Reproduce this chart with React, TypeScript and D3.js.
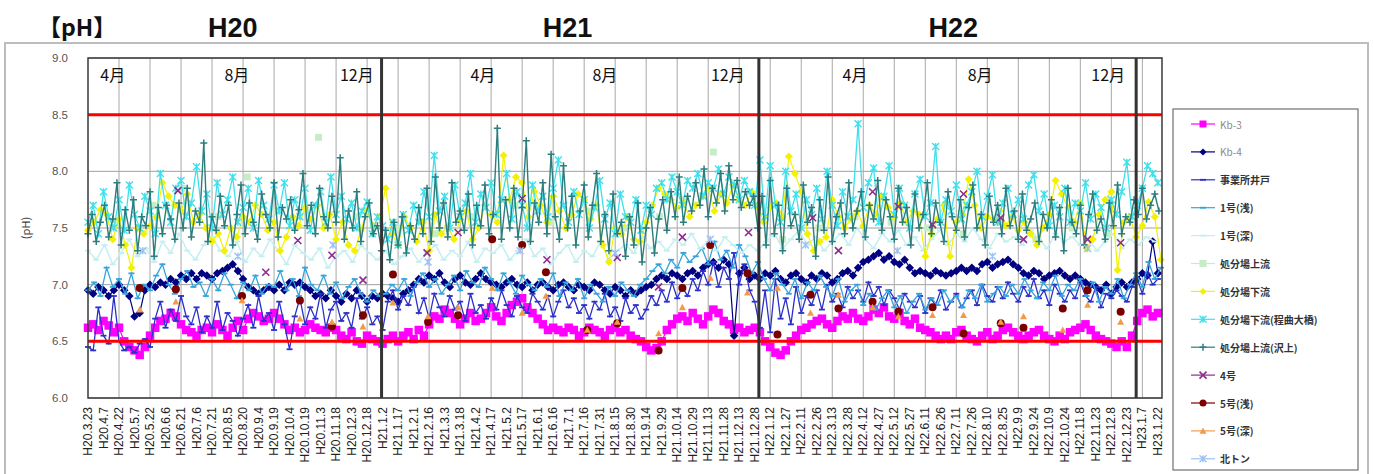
import React from "react";
import * as d3 from "d3";

// ---- data ----
const seriesStart = "2008-03-23";
const axisEnd = "2011-01-26";

const tickLabels = [
  "H20.3.23", "H20.4.7", "H20.4.22", "H20.5.7", "H20.5.22", "H20.6.6", "H20.6.21", "H20.7.6", "H20.7.21", "H20.8.5",
  "H20.8.20", "H20.9.4", "H20.9.19", "H20.10.4", "H20.10.19", "H20.11.3", "H20.11.18", "H20.12.3", "H20.12.18",
  "H21.1.2", "H21.1.17", "H21.2.1", "H21.2.16", "H21.3.3", "H21.3.18", "H21.4.2", "H21.4.17", "H21.5.2", "H21.5.17",
  "H21.6.1", "H21.6.16", "H21.7.1", "H21.7.16", "H21.7.31", "H21.8.15", "H21.8.30", "H21.9.14", "H21.9.29",
  "H21.10.14", "H21.10.29", "H21.11.13", "H21.11.28", "H21.12.13", "H21.12.28",
  "H22.1.12", "H22.1.27", "H22.2.11", "H22.2.26", "H22.3.13", "H22.3.28", "H22.4.12", "H22.4.27", "H22.5.12",
  "H22.5.27", "H22.6.11", "H22.6.26", "H22.7.11", "H22.7.26", "H22.8.10", "H22.8.25", "H22.9.9", "H22.9.24",
  "H22.10.9", "H22.10.24", "H22.11.8", "H22.11.23", "H22.12.8", "H22.12.23", "H23.1.7", "H23.1.22",
];
const yTicks = [6.0, 6.5, 7.0, 7.5, 8.0, 8.5, 9.0];
const limitLines = [8.5, 6.5];
const yearBreaks = ["2009-01-01", "2010-01-01", "2011-01-01"];
const yearLabels = [
  { text: "H20", date: "2008-08-10" },
  { text: "H21", date: "2009-06-30" },
  { text: "H22", date: "2010-07-08" },
];
const monthLabels = [
  { text: "4月", date: "2008-04-16" }, { text: "8月", date: "2008-08-14" }, { text: "12月", date: "2008-12-08" },
  { text: "4月", date: "2009-04-09" }, { text: "8月", date: "2009-08-05" }, { text: "12月", date: "2009-12-02" },
  { text: "4月", date: "2010-04-04" }, { text: "8月", date: "2010-08-03" }, { text: "12月", date: "2010-12-05" },
];

// regular samplings: value every N days from seriesStart
const kb3Step = 5;
const kb3 = [
  6.62, 6.65, 6.6, 6.68, 6.64, 6.58, 6.62,
  6.5, 6.45, 6.42, 6.38, 6.45, 6.55,
  6.62, 6.68, 6.7, 6.75, 6.72, 6.65, 6.6, 6.58,
  6.55, 6.6, 6.62, 6.58, 6.65, 6.6, 6.55, 6.62, 6.68, 6.6,
  6.7, 6.75, 6.72, 6.68, 6.7, 6.75, 6.7, 6.65, 6.6, 6.62,
  6.58, 6.6, 6.65, 6.62, 6.6, 6.58, 6.62, 6.6, 6.55, 6.52,
  6.58, 6.5, 6.48, 6.55, 6.52, 6.5, 6.48,
  6.52, 6.55, 6.5, 6.55, 6.58, 6.52, 6.6, 6.55,
  6.65, 6.72, 6.7, 6.78, 6.75, 6.7, 6.65, 6.7, 6.75, 6.68,
  6.7, 6.75, 6.8, 6.72, 6.68, 6.75, 6.82, 6.85, 6.88, 6.8, 6.75, 6.7, 6.65, 6.6, 6.62,
  6.6, 6.58, 6.62, 6.6, 6.55, 6.58, 6.62, 6.6, 6.58, 6.55, 6.6, 6.62, 6.58, 6.6, 6.55,
  6.52, 6.5, 6.45, 6.42, 6.44, 6.5, 6.6,
  6.65, 6.7, 6.72, 6.68, 6.75, 6.7, 6.65, 6.72, 6.78, 6.75, 6.68, 6.65, 6.6, 6.62, 6.58, 6.6, 6.62,
  6.58, 6.5, 6.45, 6.4, 6.38, 6.42, 6.5, 6.55,
  6.6, 6.62, 6.65, 6.68, 6.7, 6.65, 6.62, 6.68, 6.72, 6.7, 6.75, 6.7, 6.68,
  6.72, 6.78, 6.75, 6.8, 6.72, 6.7, 6.75, 6.68, 6.65, 6.7, 6.62, 6.6, 6.58, 6.55, 6.52,
  6.55, 6.52, 6.58, 6.6, 6.55, 6.52, 6.5, 6.55, 6.58, 6.52, 6.55, 6.6, 6.62, 6.58, 6.55,
  6.52, 6.55, 6.58, 6.6, 6.55, 6.52, 6.5, 6.55, 6.52, 6.58, 6.6, 6.62, 6.65, 6.6, 6.55, 6.52, 6.5, 6.48, 6.45,
  6.5, 6.45, 6.55, 6.68, 6.75, 6.78, 6.72, 6.75,
];

const kb4Step = 5;
const kb4 = [
  6.95, 6.92, 6.98, 6.95, 6.9, 6.95, 7.0, 6.95, 6.9, 6.72, 6.75,
  6.95, 7.0, 6.98, 7.02, 7.0, 7.05, 7.02, 7.08, 7.05, 7.1,
  7.05, 7.1, 7.08, 7.05, 7.1, 7.12, 7.15, 7.18, 7.12, 7.05,
  6.98, 6.95, 6.92, 6.95, 6.98, 6.95, 7.0, 6.95, 7.02, 7.0,
  7.02, 6.98, 6.95, 6.9, 6.92, 6.88, 6.95, 6.9, 6.85, 6.92,
  6.88, 6.95, 6.9, 6.85, 6.9, 6.88, 6.92,
  6.9, 6.88, 6.85, 6.92, 6.95, 7.0, 7.05, 7.02,
  7.08, 7.05, 7.1, 7.02, 6.98, 7.05, 7.08, 7.02, 7.0, 7.05,
  7.1, 7.05, 7.02, 7.0, 6.98, 7.02, 7.05, 7.0, 6.98, 7.02, 6.95, 7.0, 7.02, 6.98, 6.95,
  7.0, 7.02, 6.98, 6.95, 7.0, 6.98, 6.95, 7.02, 7.0, 6.95, 6.92, 6.98, 6.95, 6.9, 6.95,
  6.92, 6.95, 6.98, 7.0, 7.05, 7.08, 7.05, 7.1, 7.08, 7.05,
  7.1, 7.12, 7.08, 7.15, 7.18, 7.2, 7.15, 7.22, 7.18, 6.55, 7.1, 7.15, 7.05, 7.08,
  7.05, 7.1, 7.08, 7.12, 7.05, 7.02, 7.08, 7.1, 7.05, 7.02, 7.08,
  7.05, 7.1, 7.08, 7.02, 7.05, 7.1, 7.12, 7.08, 7.15, 7.2,
  7.22, 7.25, 7.28, 7.22, 7.25, 7.2, 7.18, 7.22, 7.15, 7.1,
  7.12, 7.1, 7.08, 7.12, 7.1, 7.08, 7.1, 7.12, 7.15, 7.12,
  7.15, 7.12, 7.18, 7.2, 7.15, 7.18, 7.2, 7.22, 7.18, 7.15,
  7.1, 7.08, 7.12, 7.1, 7.05, 7.08, 7.1, 7.12, 7.08, 7.05,
  7.08, 7.05, 7.02, 7.0, 6.98, 6.95, 7.0, 6.92, 6.98, 7.02,
  6.98, 7.02, 7.05, 7.1, 7.08, 7.38, 7.1,
];

const wellStep = 5; // 事業所井戸
const well = [
  6.45, 6.42, 6.8, 6.55, 6.48, 6.9, 6.5, 6.42, 6.45, 6.4,
  6.48, 6.52, 6.45, 6.7, 6.85, 6.62, 6.78, 6.68, 6.9, 6.72,
  6.65, 6.8, 6.58, 6.72, 6.62, 6.85, 6.6, 6.75, 6.68, 6.55,
  6.7, 6.82, 6.62, 6.9, 6.68, 6.75, 6.6, 6.85, 6.65, 6.43,
  6.72, 6.88, 6.65, 6.8, 6.7, 6.92, 6.62, 6.78, 6.85, 6.68,
  6.75, 6.62, 6.88, 6.7, 6.8, 6.65, 6.72, 6.6,
  6.85, 6.95, 6.78, 6.9, 6.82, 6.98, 6.75, 6.88, 6.7, 6.92,
  6.8, 6.72, 6.9, 6.78, 6.85, 6.68, 6.92, 6.75, 6.82, 6.7,
  6.88, 6.78, 6.95, 6.82, 6.72, 6.9, 6.8, 6.75, 6.92, 6.85,
  6.78, 6.9, 6.72, 6.85, 6.95, 6.8, 6.88, 6.75, 6.82, 6.7,
  6.85, 6.78, 6.92, 6.72, 6.8, 6.68, 6.88, 6.75, 6.82, 6.7,
  6.78, 6.9, 6.82, 6.95, 6.85, 7.02, 6.88, 6.98, 6.9, 7.05,
  6.95, 7.12, 7.0, 7.2, 6.98, 7.15, 7.05, 7.28, 7.0, 7.18, 6.95, 6.85,
  6.62, 6.95, 6.58, 7.05, 6.7, 6.88, 6.65, 6.98, 6.75, 6.9,
  6.82, 6.95, 6.78, 7.0, 6.85, 6.92, 6.8, 6.98, 6.88, 6.95,
  6.85, 7.02, 6.9, 6.98, 6.82, 6.95, 6.88, 6.78, 6.92, 6.85,
  6.8, 6.9, 6.75, 6.88, 6.82, 6.95, 6.78, 6.85, 6.92, 6.8,
  6.88, 6.95, 6.82, 7.0, 6.9, 6.85, 6.98, 6.88, 7.02, 6.92,
  6.85, 6.98, 6.9, 7.05, 6.88, 6.95, 6.82, 7.0, 6.92, 6.85,
  6.95, 6.88, 7.02, 6.9, 6.85, 6.98, 6.8, 6.92, 6.88, 6.95,
  6.9, 6.85, 6.98, 7.05, 6.92, 7.1, 7.0, 7.05,
];

const no1ShallowStep = 6; // 1号(浅)
const no1Shallow = [
  6.95, 7.02, 6.9, 7.15, 6.98, 7.05, 6.92, 7.1, 6.88, 7.0,
  6.95, 7.08, 7.18, 7.0, 6.92, 7.05, 7.12, 6.98, 7.02, 6.9,
  7.05, 6.95, 7.1, 7.0, 6.88, 7.02, 6.95, 7.08, 6.92, 7.0,
  6.98, 7.12, 6.95, 7.05, 6.9, 7.15, 7.0, 6.95, 7.08, 6.92,
  7.02, 6.88, 6.98, 7.05, 6.92, 6.85, 6.95, 6.9,
  6.92, 7.0, 6.95, 7.05, 6.9, 7.02, 7.1, 6.98, 7.05, 6.92,
  7.0, 7.08, 6.95, 7.12, 7.02, 6.98, 7.15, 7.05, 6.95, 7.1,
  7.02, 6.92, 7.08, 7.0, 6.95, 7.05, 6.98, 7.1, 6.9, 7.02,
  6.95, 7.05, 6.88, 7.0, 6.92, 6.85, 6.98, 6.9, 7.02, 6.95,
  6.9, 7.0, 7.05, 7.12, 7.18, 7.1, 7.22, 7.15, 7.28, 7.2,
  7.25, 7.32, 7.18, 7.38, 7.22, 7.3, 7.15, 7.35, 7.25, 7.1, 7.2,
  7.05, 6.95, 7.1, 7.0, 6.92, 7.05, 6.88, 7.02, 6.95, 7.08,
  6.98, 6.9, 7.05, 6.85, 6.95, 7.0, 6.82, 6.92, 6.78, 6.88,
  6.95, 6.8, 6.9, 6.75, 6.85, 6.92, 6.78, 6.88, 6.82, 6.95,
  6.85, 6.9, 6.8, 6.95, 6.88, 7.0, 6.85, 6.92, 6.98, 6.9,
  7.0, 6.92, 7.05, 6.95, 6.88, 7.02, 6.95, 7.08, 6.9, 7.0,
  6.95, 7.05, 6.9, 7.02, 6.85, 6.98, 6.92, 7.05, 6.88, 7.0,
  7.1, 6.98, 7.2, 7.05, 7.15,
];

const no1DeepStep = 8; // 1号(深)
const no1Deep = [
  7.3, 7.22, 7.35, 7.18, 7.28, 7.4, 7.25, 7.32, 7.2, 7.38,
  7.28, 7.45, 7.3, 7.22, 7.35, 7.42, 7.3, 7.25, 7.38, 7.2,
  7.32, 7.25, 7.4, 7.3, 7.18, 7.35, 7.28, 7.22, 7.32, 7.15,
  7.25, 7.3, 7.2, 7.35, 7.28, 7.22, 7.3, 7.18, 7.25, 7.32,
  7.2, 7.28, 7.35, 7.22, 7.3, 7.25, 7.38, 7.2, 7.32, 7.28,
  7.35, 7.22, 7.3, 7.4, 7.25, 7.32, 7.18, 7.28, 7.35, 7.2,
  7.3, 7.25, 7.38, 7.22, 7.3, 7.35, 7.28, 7.42, 7.32, 7.38,
  7.3, 7.4, 7.35, 7.45, 7.32, 7.38, 7.3, 7.42, 7.35, 7.28,
  7.35, 7.3, 7.38, 7.45, 7.32, 7.4, 7.48, 7.35, 7.42, 7.3,
  7.38, 7.45, 7.35, 7.5, 7.4, 7.32, 7.45, 7.38, 7.48, 7.35,
  7.42, 7.3, 7.4, 7.48, 7.35, 7.45, 7.38, 7.5, 7.4, 7.32,
  7.45, 7.38, 7.42, 7.35, 7.48, 7.4, 7.32, 7.45, 7.38, 7.42,
  7.35, 7.4, 7.3, 7.38, 7.45, 7.32, 7.4, 7.35, 7.42, 7.38,
];

const downstreamStep = 6; // 処分場下流
const downstream = [
  7.48, 7.55, 7.66, 7.62, 7.4, 7.58, 7.35, 7.15, 7.5, 7.45,
  7.52, 7.6, 7.9, 7.78, 7.7, 7.65, 7.8, 7.55, 7.62, 7.5,
  7.38, 7.45, 7.3, 7.5, 7.42, 7.6, 7.55, 7.7, 7.62, 7.48,
  7.55, 7.3, 7.42, 7.6, 7.52, 7.68, 7.58, 7.7, 7.5, 7.62,
  7.4, 7.55, 7.35, 7.3, 7.48, 7.65, 7.52, 7.6,
  7.85, 7.45, 7.35, 7.6, 7.5, 7.38, 7.55, 7.3, 7.62, 7.45,
  7.52, 7.4, 7.58, 7.65, 7.4, 7.5, 7.7, 7.62, 7.55, 8.14,
  7.75, 7.95, 7.9, 7.6, 7.82, 7.7, 7.55, 7.78, 7.65, 7.5,
  7.62, 7.8, 7.75, 7.58, 7.7, 7.35, 7.2, 7.5, 7.45, 7.6,
  7.4, 7.38, 7.55, 7.7, 7.85, 7.8, 7.75, 7.68, 7.72, 7.6,
  7.7, 7.78, 7.85, 7.65, 7.8, 7.72, 7.88, 7.75, 7.7, 7.82, 7.68,
  7.55, 7.68, 7.72, 7.6, 8.13, 7.98, 7.82, 7.45, 7.3, 7.38,
  7.42, 7.75, 7.6, 7.5, 7.58, 7.65, 7.52, 7.7, 7.62, 7.78,
  7.68, 7.6, 7.72, 7.55, 7.65, 7.62, 7.25, 7.45, 7.58, 7.7,
  7.25, 7.55, 7.62, 7.93, 7.7, 7.5, 7.6, 7.58, 7.65, 7.52,
  7.6, 7.48, 7.55, 7.45, 7.35, 7.5, 7.62, 7.92, 7.8, 7.68,
  7.55, 7.72, 7.32, 7.4, 7.62, 7.75, 7.82, 7.13, 7.55, 7.6,
  7.42, 7.52, 7.73, 7.6, 7.22,
];

const bridgeStep = 5; // 処分場下流(程曲大橋)
const bridge = [
  7.55, 7.7, 7.45, 7.82, 7.6, 7.5, 7.75, 7.48, 7.88, 7.62,
  7.5, 7.78, 7.65, 7.45, 7.98, 7.7, 7.55, 7.85, 7.92, 7.6,
  7.72, 8.04, 7.65, 7.8, 7.5, 7.9, 7.62, 7.75, 7.95, 7.55,
  7.68, 7.85, 7.5, 7.92, 7.7, 7.58, 7.88, 7.65, 7.9, 7.52,
  7.75, 7.6, 7.85, 7.48, 7.7, 7.82, 7.55, 7.95, 7.62, 7.78,
  7.58, 7.72, 7.5, 7.65, 7.73, 7.45, 7.6, 7.52,
  7.4, 7.55, 7.35, 7.62, 7.48, 7.7, 7.55, 7.82, 7.6, 8.14,
  7.65, 7.78, 7.5, 7.88, 7.6, 7.72, 7.98, 7.55, 7.8, 7.68,
  7.9, 7.62, 7.75, 7.98, 7.58, 7.82, 7.7, 7.5, 7.88, 7.65,
  7.78, 7.6, 7.85, 8.1, 7.7, 7.55, 7.82, 7.62, 7.75, 7.5,
  7.68, 7.92, 7.58, 7.72, 7.45, 7.8, 7.6, 7.55, 7.75, 7.48,
  7.7, 7.62, 7.85, 7.9, 7.75, 7.95, 7.82, 7.7, 7.92, 7.85,
  7.98, 7.78, 7.9, 7.85, 8.02, 7.8, 7.95, 7.88, 7.75, 7.92, 7.82, 7.7,
  8.1, 7.6, 8.05, 7.7, 7.55, 8.0, 7.65, 7.8, 7.5, 7.75,
  7.62, 7.85, 7.58, 8.0, 7.7, 7.52, 7.82, 7.6, 7.75, 8.42,
  7.68, 7.9, 8.03, 7.55, 7.78, 8.05, 7.62, 7.85, 7.7, 7.5,
  7.8, 7.93, 7.6, 7.72, 8.22, 7.55, 7.75, 7.65, 7.88, 7.58,
  7.7, 7.82, 8.0, 7.6, 7.78, 7.97, 7.55, 7.72, 7.85, 7.62,
  7.75, 7.58, 7.88, 7.97, 7.65, 7.8, 7.52, 7.7, 7.6, 7.85,
  7.55, 7.72, 7.65, 7.9, 7.58, 7.8, 7.68, 7.5, 7.75, 7.62,
  7.82, 8.08, 7.6, 7.7, 7.85, 8.05, 7.98, 7.9,
];

const sawaStep = 4; // 処分場上流(沢上)
const sawa = [
  7.45, 7.62, 7.38, 7.55, 7.7, 7.42, 7.58, 7.9, 7.35, 7.66,
  7.48, 7.75, 7.3, 7.6, 7.52, 7.82, 7.25, 7.68, 7.45, 7.7,
  7.58, 7.4, 7.72, 7.5, 7.85, 7.42, 7.65, 7.55, 8.25, 7.38,
  7.6, 7.48, 7.78, 7.52, 7.7, 7.35, 7.62, 7.88, 7.45, 7.72,
  7.55, 7.4, 7.8, 7.62, 7.5, 7.9, 7.42, 7.68, 7.58, 7.75,
  7.48, 7.66, 7.98, 7.52, 7.7, 7.45, 7.85, 7.6, 7.5, 7.78,
  7.55, 8.12, 7.4, 7.65, 7.5, 7.82, 7.38, 7.6, 7.72, 7.45,
  7.52,
  7.3, 7.48, 7.22, 7.55, 7.35, 7.6, 7.28, 7.52, 7.4, 7.68,
  7.45, 7.85, 7.38, 7.95, 7.5, 7.72, 7.42, 7.9, 7.55, 7.65,
  7.48, 7.8, 7.35, 7.7, 7.52, 7.88, 7.45, 7.62, 8.38, 7.4,
  7.75, 7.5, 7.85, 7.42, 7.68, 8.27, 7.38, 7.72, 7.55, 7.9,
  7.45, 8.15, 7.6, 7.4, 8.05, 7.5, 7.78, 7.35, 7.65, 7.88,
  7.42, 7.7, 7.98, 7.38, 7.62, 7.3, 7.8, 7.45, 7.55, 7.25,
  7.6, 7.35, 7.72, 7.2, 7.5, 7.68, 7.28, 7.58, 7.75, 7.48,
  7.82, 7.6, 7.95, 7.55, 7.78, 7.65, 7.9, 7.7, 8.02, 7.6,
  7.85, 7.72, 7.98, 7.65, 8.05, 7.75, 7.92, 7.68, 7.82, 7.7, 7.78,
  7.5, 7.78, 7.35, 7.92, 7.45, 7.7, 7.3, 7.85, 7.52, 7.62,
  7.4, 7.88, 7.55, 7.68, 7.25, 7.75, 7.48, 7.95, 7.38, 7.6,
  7.72, 7.45, 7.9, 7.5, 7.65, 7.82, 7.42, 7.7, 7.58, 7.92,
  7.48, 7.75, 7.6, 7.4, 7.85, 7.55, 7.68, 7.35, 7.8, 7.5,
  7.62, 7.9, 7.45, 7.72, 7.55, 7.38, 7.82, 7.6, 7.48, 7.75,
  7.42, 7.68, 7.88, 7.5, 7.62, 7.35, 7.78, 7.55, 7.7, 7.45,
  7.85, 7.52, 7.65, 7.4, 7.8, 7.48, 7.58, 7.72, 7.38, 7.62,
  7.5, 7.75, 7.42, 7.68, 7.3, 7.85, 7.55, 7.45, 7.7, 7.35,
  7.62, 7.8, 7.48, 7.58, 7.4, 7.72, 7.52, 7.88, 7.45, 7.6,
  7.55, 7.75, 7.62, 7.85, 7.58, 7.7, 7.8, 7.65,
];

// sparse (monthly) samplings
const upstreamDates = [
  "2008-04-20", "2008-05-25", "2008-06-22", "2008-07-27", "2008-08-24", "2008-09-21", "2008-11-01", "2008-12-07",
  "2009-01-18", "2009-02-22", "2009-03-29", "2009-05-10", "2009-06-14", "2009-07-19", "2009-08-23", "2009-09-27",
  "2009-10-20", "2009-11-18", "2010-01-24", "2010-02-28", "2010-04-04", "2010-05-09", "2010-06-13", "2010-07-18",
  "2010-08-22", "2010-09-26", "2010-10-31", "2010-12-05",
];
const upstream = [
  7.55, 7.7, 7.85, 7.6, 7.95, 7.65, 8.3, 7.6,
  7.5, 7.45, 7.6, 7.7, 7.55, 7.65, 7.5, 7.6,
  7.75, 8.17, 7.4, 7.5, 7.6, 7.55, 7.5, 7.45,
  7.55, 7.4, 7.5, 7.45,
];

const no4Dates = [
  "2008-06-18", "2008-09-11", "2008-10-12", "2008-11-14", "2008-12-14",
  "2009-02-14", "2009-03-16", "2009-05-17", "2009-06-10", "2009-08-17", "2009-09-26", "2009-10-19", "2009-12-22",
  "2010-02-22", "2010-03-19", "2010-04-21", "2010-05-16", "2010-06-18", "2010-07-18", "2010-08-23", "2010-09-14",
  "2010-11-15", "2010-12-17",
];
const no4 = [
  7.83, 7.11, 7.39, 7.26, 7.04,
  7.28, 7.46, 7.76, 7.22, 7.24, 6.98, 7.42, 7.46,
  7.59, 7.3, 7.82, 7.69, 7.53, 7.8, 7.59, 7.4,
  7.4, 7.37,
];

const no5Dates = [
  "2008-05-12", "2008-06-16", "2008-08-19", "2008-10-14", "2008-11-14", "2008-12-14",
  "2009-01-12", "2009-02-15", "2009-03-16", "2009-04-18", "2009-05-17", "2009-06-09", "2009-07-19", "2009-08-17",
  "2009-09-26", "2009-10-19", "2009-11-15", "2009-12-21",
  "2010-01-19", "2010-02-20", "2010-03-19", "2010-04-21", "2010-05-16", "2010-06-18", "2010-07-18", "2010-08-23",
  "2010-09-14", "2010-10-22", "2010-11-15", "2010-12-17",
];
const no5Shallow = [
  6.97, 6.96, 6.9, 6.86, 6.63, 6.73,
  7.09, 6.67, 6.73, 7.4, 7.35, 7.11, 6.6, 6.66,
  6.42, 6.97, 7.35, 7.1,
  6.56, 6.91, 6.79, 6.85, 6.76, 6.8, 6.57, 6.66,
  6.62, 6.79, 6.95, 6.76,
];
const no5Deep = [
  6.78, 6.85, 6.86, 6.7, 6.67, 6.63,
  6.84, 6.72, 6.8, 6.97, 6.75, 6.9, 6.6, 6.67,
  6.57, 6.8, 7.06, 6.93,
  6.97, 6.75, 6.91, 6.8, 6.72, 6.73, 6.73, 6.67,
  6.72, 6.6, 6.82, 6.67,
];

const tunnelDates = [
  "2008-05-15", "2008-08-15", "2008-11-15", "2009-02-15", "2009-05-15", "2009-08-15",
  "2009-11-15", "2010-02-15", "2010-05-15", "2010-08-15", "2010-11-15",
];
const tunnel = [7.3, 7.25, 7.35, 7.2, 7.3, 7.28, 7.4, 7.35, 7.3, 7.25, 7.32];

// ---- layout ----
const W = 1373;
const H = 474;
const plot = { left: 88, right: 1162, top: 58, bottom: 398 };
const JP = "'Noto Sans CJK JP', 'Noto Sans', sans-serif";
const LAT = "'Liberation Sans', Arial, sans-serif";

type Pt = { date: Date; value: number };
type MarkerKind = "square" | "diamond" | "dash" | "circle" | "triangle" | "asterisk" | "plus" | "x";
type Series = {
  name: string;
  color: string;
  marker: MarkerKind;
  size: number;
  width: number;
  connect: boolean;
  points: Pt[];
};

const parse = d3.timeParse("%Y-%m-%d");
const start = parse(seriesStart)!;

function regular(values: number[], step: number): Pt[] {
  return values.map((v, i) => ({ date: d3.timeDay.offset(start, i * step), value: v }));
}
function dated(dates: string[], values: number[]): Pt[] {
  return dates.map((d, i) => ({ date: parse(d)!, value: values[i] }));
}
function heisei(label: string): Date {
  const [y, m, d] = label.slice(1).split(".").map(Number);
  return new Date(1988 + y, m - 1, d);
}

const series: Series[] = [
  { name: "Kb-3", color: "#ff00ff", marker: "square", size: 8.5, width: 1.2, connect: true, points: regular(kb3, kb3Step) },
  { name: "Kb-4", color: "#000080", marker: "diamond", size: 8.5, width: 1.2, connect: true, points: regular(kb4, kb4Step) },
  { name: "事業所井戸", color: "#2b30c8", marker: "dash", size: 6, width: 1.3, connect: true, points: regular(well, wellStep) },
  { name: "1号(浅)", color: "#35a4dc", marker: "dash", size: 6, width: 1.3, connect: true, points: regular(no1Shallow, no1ShallowStep) },
  { name: "1号(深)", color: "#c4eff0", marker: "dash", size: 6, width: 1.5, connect: true, points: regular(no1Deep, no1DeepStep) },
  { name: "処分場上流", color: "#c6eec6", marker: "square", size: 7, width: 1, connect: false, points: dated(upstreamDates, upstream) },
  { name: "処分場下流", color: "#f2f200", marker: "diamond", size: 8, width: 1.2, connect: true, points: regular(downstream, downstreamStep) },
  { name: "処分場下流(程曲大橋)", color: "#3fe0ec", marker: "asterisk", size: 7, width: 1.3, connect: true, points: regular(bridge, bridgeStep) },
  { name: "処分場上流(沢上)", color: "#2b7d7e", marker: "plus", size: 7, width: 1.4, connect: true, points: regular(sawa, sawaStep) },
  { name: "4号", color: "#8e2c8e", marker: "x", size: 7, width: 1, connect: false, points: dated(no4Dates, no4) },
  { name: "5号(浅)", color: "#7a0000", marker: "circle", size: 8, width: 1, connect: false, points: dated(no5Dates, no5Shallow) },
  { name: "5号(深)", color: "#f39a4a", marker: "triangle", size: 7, width: 1, connect: false, points: dated(no5Dates, no5Deep) },
  { name: "北トン", color: "#9cc2f5", marker: "asterisk", size: 7, width: 1, connect: false, points: dated(tunnelDates, tunnel) },
];

function Marker({ kind, x, y, size, color }: { kind: MarkerKind; x: number; y: number; size: number; color: string }) {
  const h = size / 2;
  switch (kind) {
    case "square":
      return <rect x={x - h} y={y - h} width={size} height={size} fill={color} />;
    case "diamond":
      return <path d={`M${x},${y - h}L${x + h},${y}L${x},${y + h}L${x - h},${y}Z`} fill={color} />;
    case "circle":
      return <circle cx={x} cy={y} r={h} fill={color} />;
    case "triangle":
      return <path d={`M${x},${y - h}L${x + h},${y + h * 0.8}L${x - h},${y + h * 0.8}Z`} fill={color} />;
    case "dash":
      return <line x1={x - h} x2={x + h} y1={y} y2={y} stroke={color} strokeWidth={1.8} />;
    case "plus":
      return (
        <path d={`M${x - h},${y}H${x + h}M${x},${y - h}V${y + h}`} stroke={color} strokeWidth={1.5} fill="none" />
      );
    case "x":
      return (
        <path d={`M${x - h},${y - h}L${x + h},${y + h}M${x - h},${y + h}L${x + h},${y - h}`} stroke={color} strokeWidth={1.6} fill="none" />
      );
    case "asterisk":
      return (
        <path
          d={`M${x - h},${y - h}L${x + h},${y + h}M${x - h},${y + h}L${x + h},${y - h}M${x},${y - h}V${y + h}`}
          stroke={color}
          strokeWidth={1.4}
          fill="none"
        />
      );
  }
  return null;
}

export default function App() {
  const x = d3.scaleTime().domain([start, parse(axisEnd)!]).range([plot.left, plot.right]);
  const y = d3.scaleLinear().domain([6, 9]).range([plot.bottom, plot.top]);
  const line = d3
    .line<Pt>()
    .x((d) => x(d.date))
    .y((d) => y(d.value));

  const tickDates = tickLabels.map(heisei);
  const breaks = yearBreaks.map((d) => parse(d)!);

  const legend = { x: 1173, y: 109, w: 185, h: 361, row0: 124, rowH: 27.9 };

  return (
    <svg width={W} height={H} style={{ position: "absolute", left: 0, top: 0, background: "#fff" }}>
      {/* outer chart frame */}
      <rect x={5} y={43} width={1363} height={445} fill="#fff" stroke="#bdbdbd" strokeWidth={2} />

      {/* titles */}
      <text x={38} y={36} fontFamily={JP} fontWeight="bold" fontSize={23} fill="#111">
        【pH】
      </text>
      {yearLabels.map((t) => (
        <text
          key={t.text}
          x={x(parse(t.date)!)}
          y={37}
          textAnchor="middle"
          fontFamily={LAT}
          fontWeight="bold"
          fontSize={27}
          fill="#111"
        >
          {t.text}
        </text>
      ))}

      {/* horizontal grid */}
      {yTicks.map((v) => (
        <line key={"h" + v} x1={plot.left} x2={plot.right} y1={y(v)} y2={y(v)} stroke="#a0a0a0" strokeWidth={1} />
      ))}
      {/* vertical grid every second tick */}
      {tickDates.map((d, i) =>
        i % 2 === 0 && i > 0 ? (
          <line key={"v" + i} x1={x(d)} x2={x(d)} y1={plot.top} y2={plot.bottom} stroke="#a8a8a8" strokeWidth={1} />
        ) : null
      )}

      {/* series */}
      {series.map((s) => (
        <g key={s.name}>
          {s.connect && <path d={line(s.points) ?? ""} fill="none" stroke={s.color} strokeWidth={s.width} />}
          {s.points.map((p, i) => (
            <Marker key={i} kind={s.marker} x={x(p.date)} y={y(p.value)} size={s.size} color={s.color} />
          ))}
        </g>
      ))}

      {/* limit lines */}
      {limitLines.map((v) => (
        <line key={"l" + v} x1={plot.left} x2={plot.right} y1={y(v)} y2={y(v)} stroke="#ff0000" strokeWidth={3} />
      ))}

      {/* year boundaries */}
      {breaks.map((d, i) => (
        <line key={"y" + i} x1={x(d)} x2={x(d)} y1={plot.top} y2={plot.bottom} stroke="#333" strokeWidth={3} />
      ))}

      {/* plot frame */}
      <rect
        x={plot.left}
        y={plot.top}
        width={plot.right - plot.left}
        height={plot.bottom - plot.top}
        fill="none"
        stroke="#3a3a3a"
        strokeWidth={1.5}
      />

      {/* month annotations */}
      {monthLabels.map((m, i) => (
        <text key={"m" + i} x={x(parse(m.date)!)} y={81} textAnchor="middle" fontFamily={JP} fontSize={16} fill="#111">
          {m.text}
        </text>
      ))}

      {/* y axis */}
      {yTicks.map((v) => (
        <text key={"yt" + v} x={68} y={y(v) + 4} textAnchor="end" fontFamily={LAT} fontSize={11.5} fill="#555">
          {v.toFixed(1)}
        </text>
      ))}
      <text
        transform={`translate(30,${(plot.top + plot.bottom) / 2}) rotate(-90)`}
        textAnchor="middle"
        fontFamily={JP}
        fontSize={11}
        fill="#444"
      >
        (pH)
      </text>

      {/* x axis labels */}
      {tickDates.map((d, i) => (
        <text
          key={"xt" + i}
          transform={`translate(${x(d)},407) rotate(-90)`}
          textAnchor="end"
          dominantBaseline="central"
          fontFamily={LAT}
          fontSize={12}
          fill="#222"
        >
          {tickLabels[i]}
        </text>
      ))}

      {/* legend */}
      <rect x={legend.x} y={legend.y} width={legend.w} height={legend.h} fill="#fff" stroke="#707070" strokeWidth={1.2} />
      {series.map((s, i) => {
        const ly = legend.row0 + i * legend.rowH;
        return (
          <g key={"lg" + i}>
            <line x1={1191} x2={1215} y1={ly} y2={ly} stroke={s.color} strokeWidth={1.2} />
            <Marker kind={s.marker} x={1203} y={ly} size={Math.min(s.size, 7)} color={s.color} />
            <text
              x={1220}
              y={ly}
              dominantBaseline="central"
              fontFamily={JP}
              fontSize={10}
              fontWeight={i < 2 ? "normal" : "bold"}
              fill={i < 2 ? "#888" : "#333"}
            >
              {s.name}
            </text>
          </g>
        );
      })}
    </svg>
  );
}
